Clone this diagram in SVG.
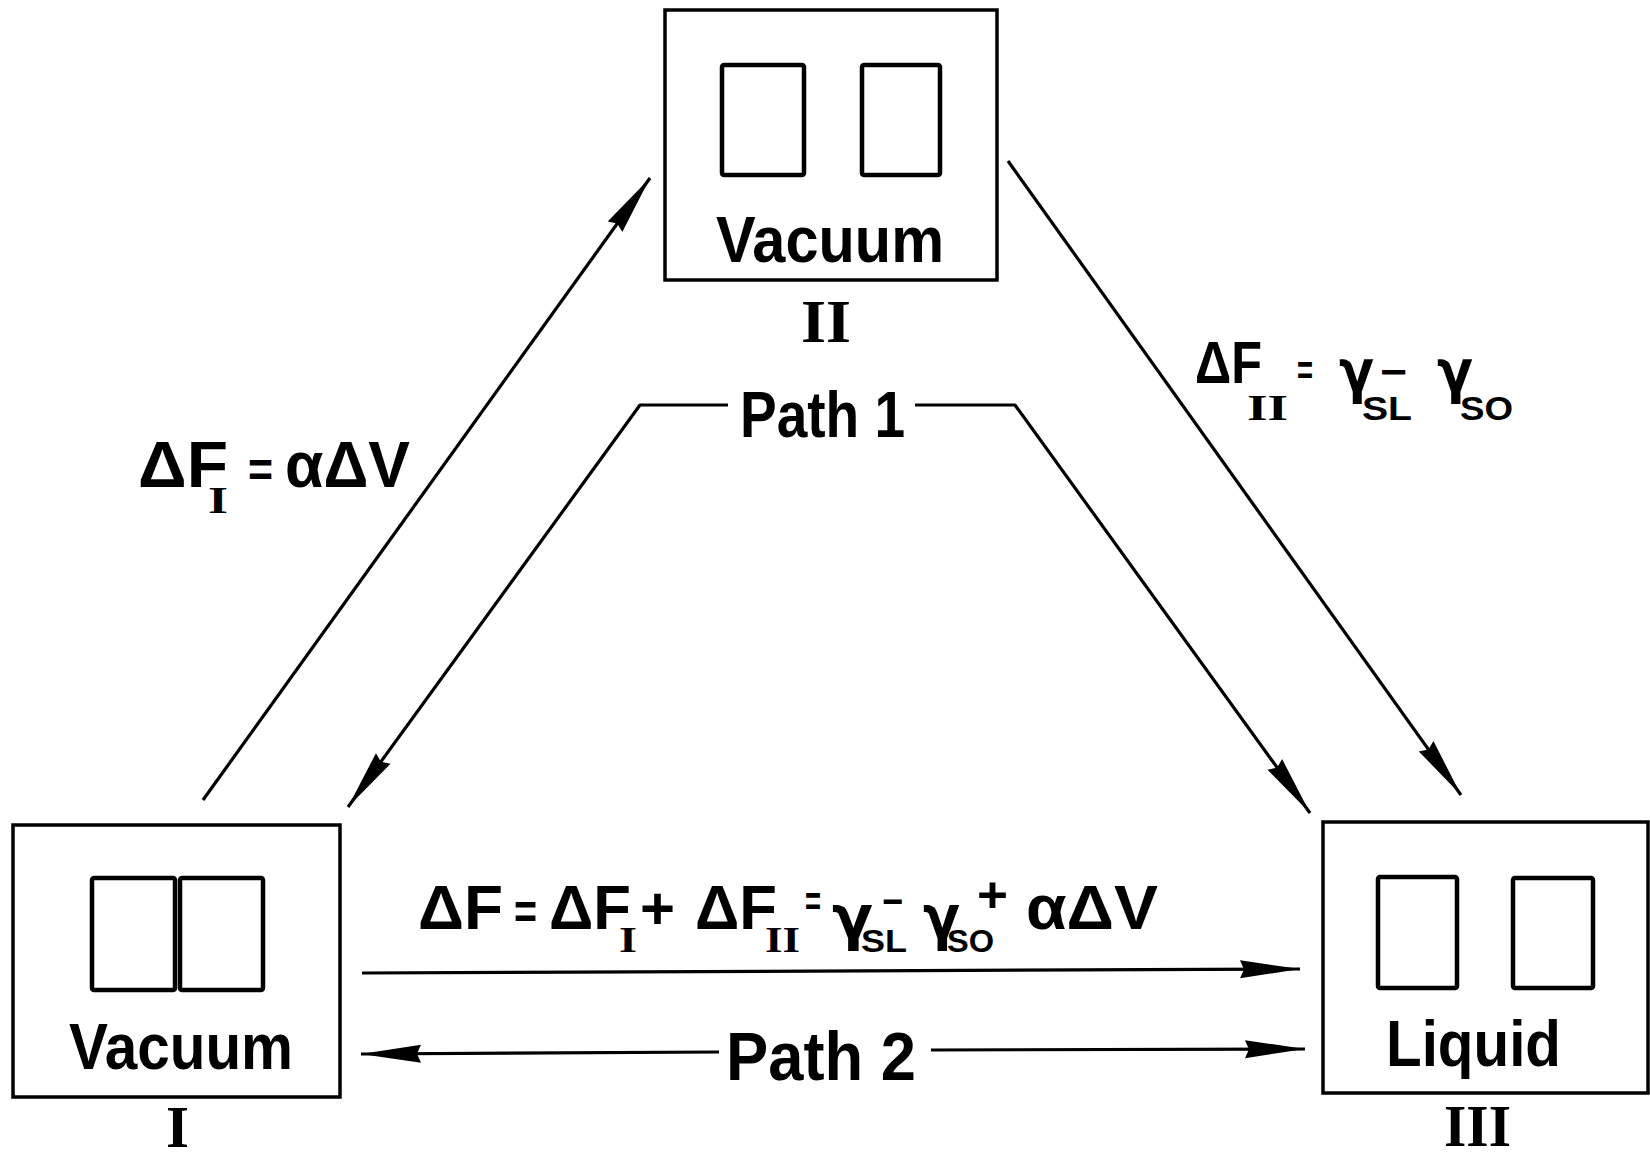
<svg xmlns="http://www.w3.org/2000/svg" width="1650" height="1159" viewBox="0 0 1650 1159">
  <style>
    .t { font-family: "Liberation Sans", Arial, sans-serif; font-weight: bold; fill: #000; }
    .g { font-family: "DejaVu Sans", "Liberation Sans", sans-serif; font-weight: bold; fill: #000; }
    .r { font-family: "Liberation Serif", "Times New Roman", serif; font-weight: bold; fill: #000; }
    .box { fill: #fff; stroke: #000; stroke-width: 3.5; }
    .pane { fill: none; stroke: #000; stroke-width: 4.5; }
    .conn { fill: none; stroke: #000; stroke-width: 3.2; stroke-linejoin: round; }
  </style>
  <defs>
    <marker id="head" markerUnits="userSpaceOnUse" markerWidth="64" markerHeight="22" viewBox="0 0 64 22" refX="62" refY="11" orient="auto-start-reverse">
      <path d="M62,11 L2,2 L6,11 L2,20 Z" fill="#000"/>
    </marker>
  </defs>
  <rect width="1650" height="1159" fill="#fff"/>

  <!-- connectors -->
  <g id="connectors">
    <line class="conn" x1="203" y1="800" x2="650" y2="178" marker-end="url(#head)"/>
    <polyline class="conn" points="728,405 640,405 348,807" marker-end="url(#head)"/>
    <polyline class="conn" points="915,405 1015,405 1310,813" marker-end="url(#head)"/>
    <line class="conn" x1="1008" y1="161" x2="1461" y2="795" marker-end="url(#head)"/>
    <line class="conn" x1="362" y1="973" x2="1300" y2="969" marker-end="url(#head)"/>
    <line class="conn" x1="361" y1="1054" x2="719" y2="1052" marker-start="url(#head)"/>
    <line class="conn" x1="931" y1="1050" x2="1305" y2="1049" marker-end="url(#head)"/>
  </g>

  <!-- state I : two blocks in contact, in vacuum -->
  <g id="state-1">
    <rect class="box" x="13" y="825" width="327" height="272"/>
    <rect class="pane" x="92" y="878" width="83" height="112" rx="2"/>
    <rect class="pane" x="180" y="878" width="83" height="112" rx="2"/>
    <text class="t" x="69" y="1069" font-size="64" textLength="224" lengthAdjust="spacingAndGlyphs">Vacuum</text>
    <text class="r" x="166" y="1147" font-size="60" textLength="23" lengthAdjust="spacingAndGlyphs">I</text>
  </g>

  <!-- state II : blocks separated, in vacuum -->
  <g id="state-2">
    <rect class="box" x="665" y="10" width="332" height="270"/>
    <rect class="pane" x="722" y="65" width="82" height="110" rx="2"/>
    <rect class="pane" x="862" y="65" width="78" height="110" rx="2"/>
    <text class="t" x="716" y="262" font-size="64" textLength="228" lengthAdjust="spacingAndGlyphs">Vacuum</text>
    <text class="r" x="801" y="342" font-size="62" textLength="50" lengthAdjust="spacingAndGlyphs">II</text>
  </g>

  <!-- state III : blocks separated, in liquid -->
  <g id="state-3">
    <rect class="box" x="1323" y="822" width="325" height="271"/>
    <rect class="pane" x="1378" y="877" width="79" height="111" rx="2"/>
    <rect class="pane" x="1513" y="878" width="80" height="110" rx="2"/>
    <text class="t" x="1386" y="1066" font-size="64" textLength="175" lengthAdjust="spacingAndGlyphs">Liquid</text>
    <text class="r" x="1444" y="1146" font-size="60" textLength="67" lengthAdjust="spacingAndGlyphs">III</text>
  </g>

  <!-- path labels -->
  <g id="labels">
    <text class="t" x="740" y="437" font-size="64" textLength="165" lengthAdjust="spacingAndGlyphs">Path 1</text>
    <text class="t" x="726" y="1080" font-size="68" textLength="190" lengthAdjust="spacingAndGlyphs">Path 2</text>
  </g>

  <!-- free energy of step I -->
  <g id="eq-step-1">
    <text class="t" x="138" y="487" font-size="65" textLength="90" lengthAdjust="spacingAndGlyphs">ΔF</text>
    <text class="r" x="208" y="513" font-size="38" textLength="20" lengthAdjust="spacingAndGlyphs">I</text>
    <text class="t" x="248" y="487" font-size="50" textLength="25" lengthAdjust="spacingAndGlyphs">=</text>
    <text class="t" x="285" y="487" font-size="65" textLength="125" lengthAdjust="spacingAndGlyphs">αΔV</text>
  </g>

  <!-- free energy of step II -->
  <g id="eq-step-2">
    <text class="t" x="1195" y="383" font-size="60" textLength="67" lengthAdjust="spacingAndGlyphs">ΔF</text>
    <text class="r" x="1247" y="420" font-size="36" textLength="41" lengthAdjust="spacingAndGlyphs">II</text>
    <text class="t" x="1297" y="385" font-size="42" textLength="16" lengthAdjust="spacingAndGlyphs">=</text>
    <text class="g" x="1339" y="392" font-size="58" textLength="35" lengthAdjust="spacingAndGlyphs">γ</text>
    <text class="t" x="1362" y="420" font-size="33" textLength="50" lengthAdjust="spacingAndGlyphs">SL</text>
    <text class="t" x="1380" y="386" font-size="42" textLength="27" lengthAdjust="spacingAndGlyphs">−</text>
    <text class="g" x="1437" y="392" font-size="58" textLength="36" lengthAdjust="spacingAndGlyphs">γ</text>
    <text class="t" x="1460" y="420" font-size="33" textLength="53" lengthAdjust="spacingAndGlyphs">SO</text>
  </g>

  <!-- total free energy along path 2 -->
  <g id="eq-total">
    <text class="t" x="418" y="929" font-size="63" textLength="85" lengthAdjust="spacingAndGlyphs">ΔF</text>
    <text class="t" x="514" y="929" font-size="50" textLength="23" lengthAdjust="spacingAndGlyphs">=</text>
    <text class="t" x="549" y="929" font-size="63" textLength="82" lengthAdjust="spacingAndGlyphs">ΔF</text>
    <text class="r" x="619" y="952" font-size="36" textLength="18" lengthAdjust="spacingAndGlyphs">I</text>
    <text class="t" x="640" y="929" font-size="60" textLength="35" lengthAdjust="spacingAndGlyphs">+</text>
    <text class="t" x="695" y="929" font-size="63" textLength="82" lengthAdjust="spacingAndGlyphs">ΔF</text>
    <text class="r" x="765" y="952" font-size="36" textLength="35" lengthAdjust="spacingAndGlyphs">II</text>
    <text class="t" x="805" y="916" font-size="42" textLength="16" lengthAdjust="spacingAndGlyphs">=</text>
    <text class="g" x="832" y="938" font-size="60" textLength="41" lengthAdjust="spacingAndGlyphs">γ</text>
    <text class="t" x="861" y="952" font-size="32" textLength="46" lengthAdjust="spacingAndGlyphs">SL</text>
    <text class="t" x="882" y="915" font-size="40" textLength="21" lengthAdjust="spacingAndGlyphs">−</text>
    <text class="g" x="923" y="938" font-size="60" textLength="37" lengthAdjust="spacingAndGlyphs">γ</text>
    <text class="t" x="947" y="952" font-size="32" textLength="47" lengthAdjust="spacingAndGlyphs">SO</text>
    <text class="t" x="977" y="912" font-size="50" textLength="31" lengthAdjust="spacingAndGlyphs">+</text>
    <text class="t" x="1026" y="929" font-size="63" textLength="132" lengthAdjust="spacingAndGlyphs">αΔV</text>
  </g>
</svg>
